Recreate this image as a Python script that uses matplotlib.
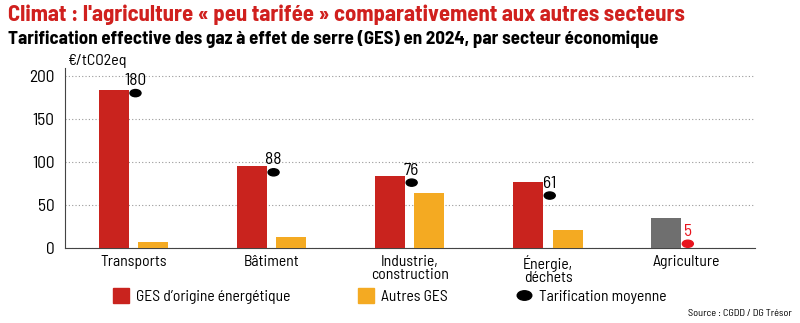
import matplotlib
matplotlib.use("Agg")
import matplotlib.pyplot as plt
from matplotlib.patches import Patch
from matplotlib.lines import Line2D
from matplotlib.path import Path
from matplotlib.transforms import Affine2D
import numpy as np

secteurs = ["Transports", "Bâtiment", "Industrie,\nconstruction", "Énergie,\ndéchets", "Agriculture"]
ges_energie = [184, 95, 84, 77, 0]
autres_ges = [6.5, 13, 64, 21, 0]
agriculture_total = [0, 0, 0, 0, 35]
tarif_moyen = [180, 88, 76, 61, 5]

plt.rcParams["font.family"] = ["Barlow Semi Condensed", "DejaVu Sans"]

rouge = "#C9231E"
orange = "#F4AA22"
gris = "#6F6F6F"

fig = plt.figure(figsize=(8, 3.23), dpi=100)
ax = fig.add_axes([0.081, 0.232, 0.863, 0.557])

x = np.arange(len(secteurs))
w = 0.217
ax.bar(x[:4] - 0.145, ges_energie[:4], w, color=rouge, zorder=3)
ax.bar(x[:4] + 0.141, autres_ges[:4], w, color=orange, zorder=3)
ax.bar(x[4:] - 0.145, agriculture_total[4:], w, color=gris, zorder=3)

# points en ellipse pour la tarification moyenne
ellipse = Path.unit_circle().transformed(Affine2D().scale(1, 0.65))
couleurs_pt = ["black"] * 4 + ["#E8141E"]
ax.scatter(x + 0.012, tarif_moyen, s=63, marker=ellipse, c=couleurs_pt, zorder=4, clip_on=False)
for xi, v, c in zip(x, tarif_moyen, couleurs_pt):
    ax.annotate(str(v), (xi + 0.01, v), xytext=(0, 3.5), textcoords="offset points",
                ha="center", va="bottom", fontsize=12.5, color=c)

ax.set_xlim(-0.5, 4.5)
ax.set_ylim(0, 209)
ax.set_yticks([0, 50, 100, 150, 200])
ax.set_xticks(x)
ax.set_xticklabels(secteurs, fontsize=11.3, linespacing=0.95, va="top")
ax.tick_params(axis="both", length=0)
ax.tick_params(axis="y", pad=7.5, labelsize=12.5)
ax.tick_params(axis="x", pad=5)
ax.grid(axis="y", linestyle=(0, (1, 2)), color="#999999", linewidth=0.8, zorder=0)
for s in ["top", "right"]:
    ax.spines[s].set_visible(False)
ax.spines["left"].set_color("#444444")
ax.spines["bottom"].set_color("#444444")

ax.text(0.005, 1.039, "€/tCO2eq", transform=ax.transAxes, fontsize=11.5, ha="left", va="center")

fig.text(0.01, 0.954, "Climat : l'agriculture « peu tarifée » comparativement aux autres secteurs",
         fontsize=16.4, fontweight="bold", color="#D0201E", va="center")
fig.text(0.01, 0.88, "Tarification effective des gaz à effet de serre (GES) en 2024, par secteur économique",
         fontsize=13.6, fontweight="bold", color="black", va="center")

handles = [Patch(color=rouge), Patch(color=orange),
           Line2D([], [], marker=ellipse, color="black", linestyle="none", markersize=10.5)]
fig.legend(handles, ["GES d’origine énergétique", "Autres GES", "Tarification moyenne"],
           loc="center", bbox_to_anchor=(0.487, 0.083), ncol=3, frameon=False, fontsize=11.2,
           handlelength=1.0, handleheight=1.1, handletextpad=0.45, columnspacing=4.4)

fig.text(0.99, 0.03, "Source : CGDD / DG Trésor", fontsize=7.4, ha="right", va="center")

fig.savefig("out.png", dpi=100)
